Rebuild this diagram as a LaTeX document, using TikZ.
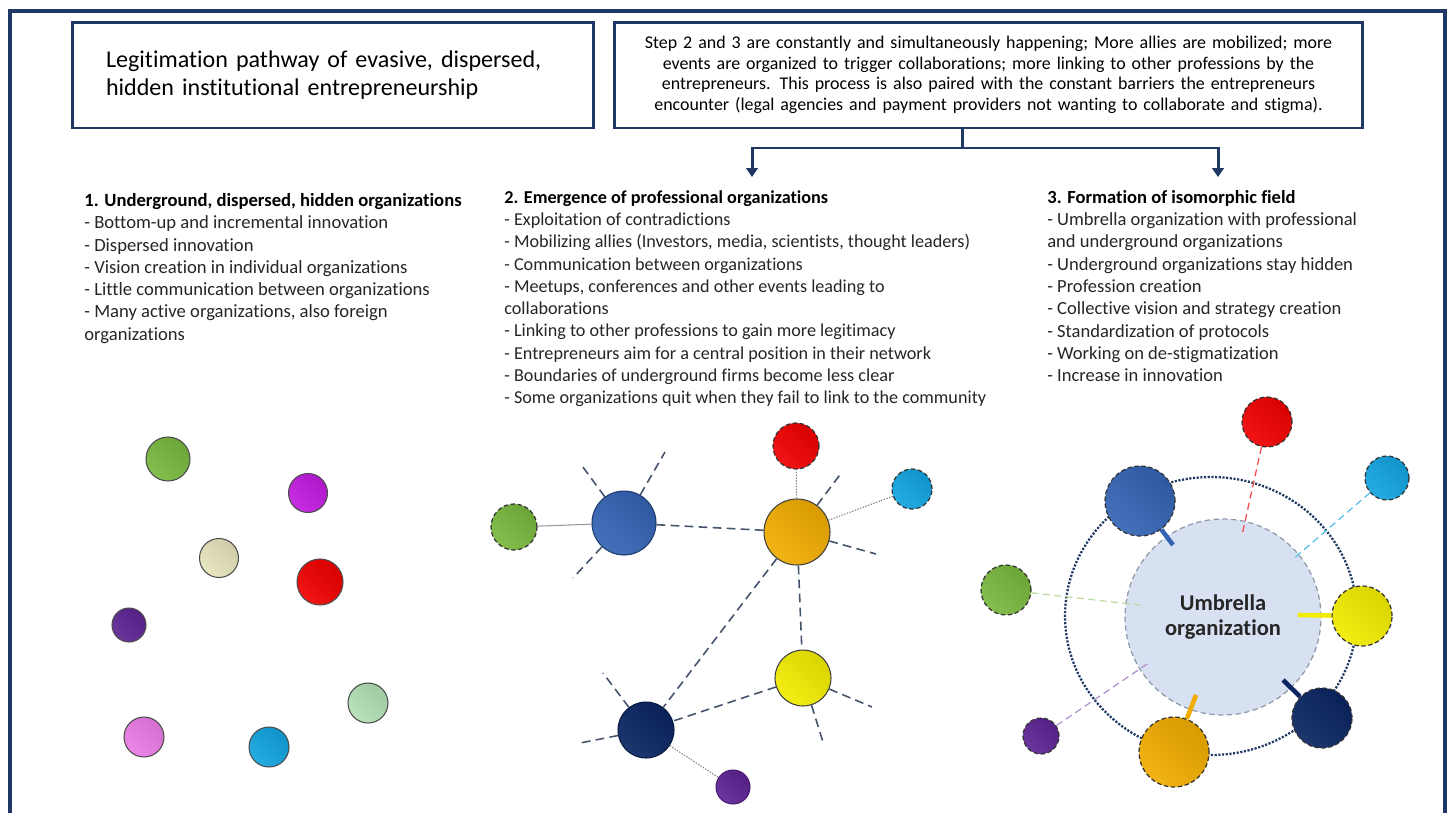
\documentclass[tikz,border=0pt]{standalone}
\usepackage{fontspec}
\setmainfont{Carlito}[Ligatures=NoCommon]
\usetikzlibrary{positioning,arrows.meta}

\definecolor{navy}{HTML}{1F3864}
\definecolor{slate}{HTML}{44546A}
\definecolor{cGreen}{HTML}{78B83E}
\definecolor{cMagenta}{HTML}{C21BE0}
\definecolor{cBeige}{HTML}{E6E4BC}
\definecolor{cRed}{HTML}{F00000}
\definecolor{cPurple}{HTML}{5E2494}
\definecolor{cMint}{HTML}{B4E0B4}
\definecolor{cPink}{HTML}{EA7CE6}
\definecolor{cCyan}{HTML}{12A4E0}
\definecolor{cBlue}{HTML}{3464B4}
\definecolor{cOrange}{HTML}{F0AC00}
\definecolor{cYellow}{HTML}{F2EC00}
\definecolor{cNavy}{HTML}{0A2562}
\definecolor{umbrella}{HTML}{D8E1F2}

\begin{document}
\begin{tikzpicture}[x=0.02cm,y=-0.02cm,>={Triangle[length=5pt,width=6.5pt]},
  org/.style={circle,inner sep=0pt,draw=black!70,line width=0.6pt,
    top color=#1!90!black,bottom color=#1!92!white,shading angle=-45},
  ray/.style={draw=#1,line width=0.7pt,dash pattern=on 4pt off 2.5pt},
  tie/.style={draw=#1,line width=2.6pt}]
\tikzstyle{box}=[draw=navy,line width=1.7pt,inner ysep=0pt,minimum height=2.12cm]
\tikzstyle{flow}=[draw=navy,line width=1.7pt]
\tikzstyle{textcol}=[anchor=north west,align=left,inner sep=0pt,text=black!85]
\tikzstyle{ghost}=[draw=black!80,line width=0.7pt,dash pattern=on 2.5pt off 1.5pt]
\tikzstyle{link}=[draw=slate,line width=0.9pt,dash pattern=on 5pt off 3pt]
\tikzstyle{weaklink}=[draw=gray!80,line width=0.6pt]
\tikzstyle{dotlink}=[draw=gray,line width=0.6pt,dash pattern=on 0.8pt off 0.8pt]

\useasboundingbox (0,0) rectangle (1453,812);
\fill[white] (0,0) rectangle (1453,812);
\draw[navy,line width=2.3pt] (10,840) -- (10,11) -- (1445,11) -- (1445,840);

% header
\node[box,inner xsep=0.68cm,text width=9.08cm,align=left,
  font=\fontsize{13.7}{16.3}\selectfont] (title) at (333,75)
  {Legitimation pathway of evasive, dispersed,\\ hidden institutional entrepreneurship};
\node[box,inner xsep=0.2cm,text width=14.58cm,align=center,
  font=\fontsize{10.2}{11.7}\selectfont] (stepbox) at (988.5,75)
  {Step 2 and 3 are constantly and simultaneously happening; More allies are mobilized; more\\
   events are organized to trigger collaborations; more linking to other professions by the\\
   entrepreneurs. This process is also paired with the constant barriers the entrepreneurs\\
   encounter (legal agencies and payment providers not wanting to collaborate and stigma).};

\coordinate (fork) at (962,148);
\coordinate (to2) at (752,177);
\coordinate (to3) at (1218,177);
\draw[flow] (stepbox.south -| fork) -- (fork);
\draw[flow,->] (fork) -| (to2);
\draw[flow,->] (fork) -| (to3);

% the three stages
\node[textcol,font=\fontsize{10.6}{12.7}\selectfont] (stage1) at (84,193)
  {\textbf{\color{black}1. Underground, dispersed, hidden organizations}\\
   - Bottom-up and incremental innovation\\
   - Dispersed innovation\\
   - Vision creation in individual organizations\\
   - Little communication between organizations\\
   - Many active organizations, also foreign\\
   organizations};
\node[textcol,font=\fontsize{10.35}{12.7}\selectfont] (stage2) at (504,190)
  {\textbf{\color{black}2. Emergence of professional organizations}\\
   - Exploitation of contradictions\\
   - Mobilizing allies (Investors, media, scientists, thought leaders)\\
   - Communication between organizations\\
   - Meetups, conferences and other events leading to\\
   collaborations\\
   - Linking to other professions to gain more legitimacy\\
   - Entrepreneurs aim for a central position in their network\\
   - Boundaries of underground firms become less clear\\
   - Some organizations quit when they fail to link to the community};
\node[textcol,font=\fontsize{10.55}{12.7}\selectfont] (stage3) at (1047,190)
  {\textbf{\color{black}3. Formation of isomorphic field}\\
   - Umbrella organization with professional\\
   and underground organizations\\
   - Underground organizations stay hidden\\
   - Profession creation\\
   - Collective vision and strategy creation\\
   - Standardization of protocols\\
   - Working on de-stigmatization\\
   - Increase in innovation};

% stage 1: scattered organizations
\node[org=cGreen,minimum size=0.88cm] (g1) at (168,459) {};
\node[org=cMagenta,minimum size=0.78cm] (m1) at (308,493) {};
\node[org=cBeige,minimum size=0.78cm] (e1) at (219,558) {};
\node[org=cRed,minimum size=0.92cm] (r1) at (320,582) {};
\node[org=cPurple,minimum size=0.68cm] (p1) at (129,625) {};
\node[org=cMint,minimum size=0.80cm] (l1) at (368,703) {};
\node[org=cPink,minimum size=0.80cm] (k1) at (144,737) {};
\node[org=cCyan,minimum size=0.80cm] (c1) at (269,747) {};

% stage 2: network
\node[org=cGreen,ghost,minimum size=0.92cm] (g2) at (514,527) {};
\node[org=cBlue,draw=cBlue!60!black,minimum size=1.28cm] (b2) at (624,523) {};
\node[org=cRed,ghost,minimum size=0.92cm] (r2) at (796,446) {};
\node[org=cOrange,draw=black!75,minimum size=1.32cm] (o2) at (797,532) {};
\node[org=cCyan,ghost,minimum size=0.80cm] (c2) at (912,489) {};
\node[org=cYellow,draw=black!75,minimum size=1.12cm] (y2) at (803,678) {};
\node[org=cNavy,draw=cNavy!70!black,minimum size=1.12cm] (n2) at (646,730) {};
\node[org=cPurple,draw=cPurple!80!black,minimum size=0.68cm] (p2) at (733,787) {};

\path (g2) edge[weaklink] (b2)
      (b2) edge[link] (o2)
      (o2) edge[dotlink] (r2)
      (o2) edge[dotlink] (c2)
      (o2) edge[link] (n2)
      (o2) edge[link] (y2)
      (y2) edge[link] (n2)
      (n2) edge[dotlink] (p2);

% loose ends
\coordinate (b2a) at (580,463);
\coordinate (b2b) at (665,452);
\coordinate (b2c) at (573,578);
\coordinate (o2a) at (842,472);
\coordinate (o2b) at (876,554);
\coordinate (y2a) at (872,707);
\coordinate (y2b) at (823,742);
\coordinate (n2a) at (603,673);
\coordinate (n2b) at (580,743);
\path (b2) edge[link] (b2a) edge[link] (b2b) edge[link] (b2c)
      (o2) edge[link] (o2a) edge[link] (o2b)
      (y2) edge[link] (y2a) edge[link] (y2b)
      (n2) edge[link] (n2a) edge[link] (n2b);

% stage 3: umbrella organization
\draw[navy,line width=1.3pt,dash pattern=on 1.2pt off 0.9pt]
  (1211,616) ellipse [x radius=2.92cm,y radius=2.78cm];
\node[circle,fill=umbrella,draw=slate!60,line width=0.7pt,dash pattern=on 3pt off 2pt,
  minimum size=3.92cm,align=center,text=black!85,
  font=\fontsize{12.8}{14.7}\selectfont\bfseries] (umb) at (1223,617)
  {Umbrella\\ organization};

\node[org=cRed,ghost,minimum size=1.0cm] (r3) at (1267,422) {};
\node[org=cCyan,ghost,minimum size=0.88cm] (c3) at (1387,478) {};
\node[org=cBlue,ghost,minimum size=1.40cm] (b3) at (1140,501) {};
\node[org=cGreen,ghost,minimum size=1.0cm] (g3) at (1006,590) {};
\node[org=cYellow,ghost,minimum size=1.2cm] (y3) at (1362,616) {};
\node[org=cNavy,ghost,minimum size=1.2cm] (n3) at (1322,718) {};
\node[org=cOrange,ghost,minimum size=1.4cm] (o3) at (1174,752) {};
\node[org=cPurple,ghost,minimum size=0.72cm] (p3) at (1041,736) {};

\coordinate (r3e) at (1242,535);
\coordinate (c3e) at (1292,560);
\coordinate (g3e) at (1140,605);
\coordinate (p3e) at (1150,662);
\coordinate (b3e) at (1173,545);
\coordinate (y3e) at (1298,615);
\coordinate (n3e) at (1283,680);
\coordinate (o3e) at (1196,695);
\path (r3) edge[ray=cRed!70!white] (r3e)
      (c3) edge[ray=cCyan!70!white] (c3e)
      (g3) edge[ray=cGreen!50!white] (g3e)
      (p3) edge[ray=cPurple!50!white] (p3e)
      (b3) edge[tie=cBlue] (b3e)
      (y3) edge[tie=cYellow] (y3e)
      (n3) edge[tie=cNavy] (n3e)
      (o3) edge[tie=cOrange] (o3e);
\end{tikzpicture}
\end{document}
